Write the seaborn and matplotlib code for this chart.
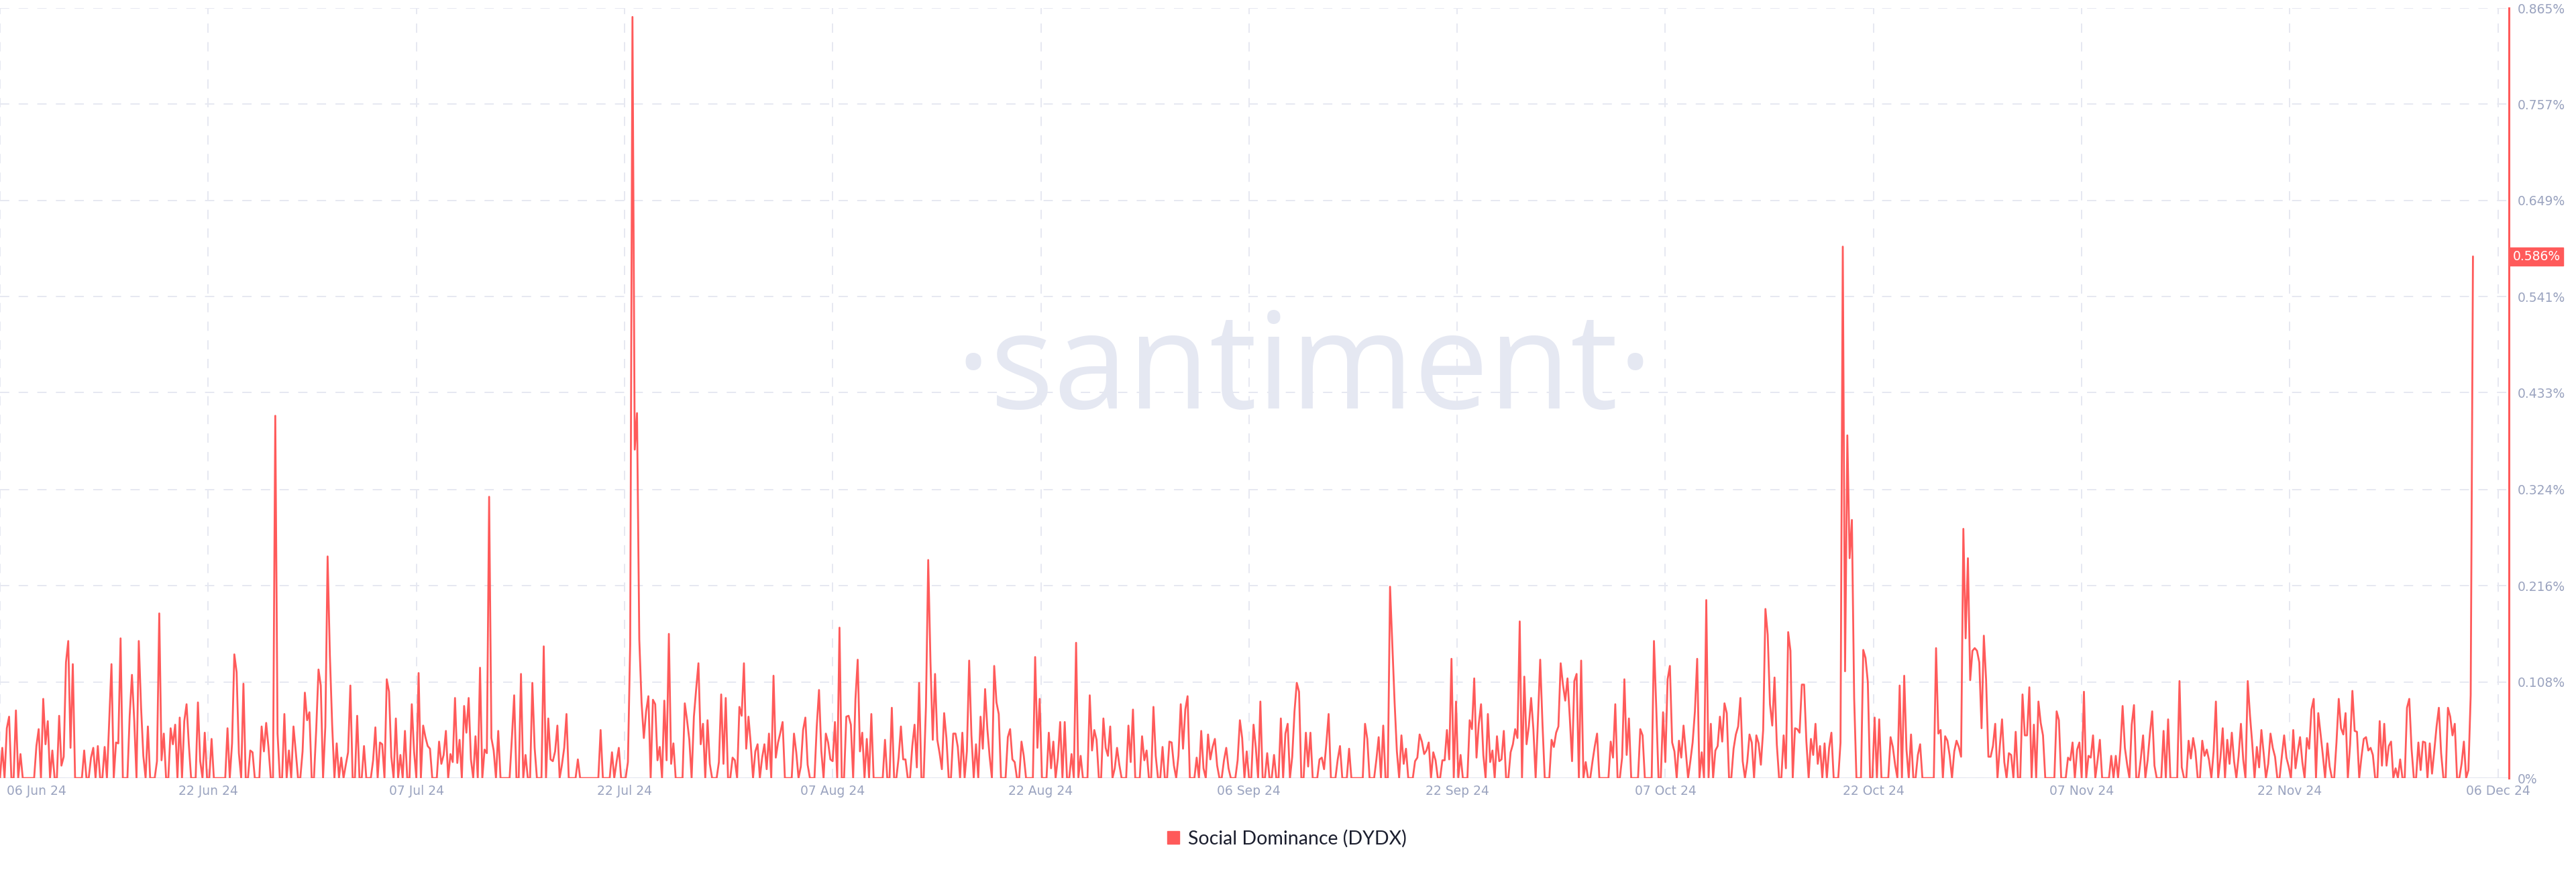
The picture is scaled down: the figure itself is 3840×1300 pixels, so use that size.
import numpy as np
import pandas as pd
import matplotlib
matplotlib.use("Agg")
import matplotlib.pyplot as plt
import matplotlib.transforms as mtransforms
from matplotlib.patches import Patch
import seaborn as sns

sns.set_style("white")
plt.rcParams["font.family"] = ["DejaVu Sans"]
plt.rcParams["lines.scale_dashes"] = False

# Social Dominance (DYDX), one value every 4 hours, in thousandths of a percent
jun_early = [0, 34, 0, 56, 69, 0, 0, 76, 0, 27,
             0, 0, 0, 0, 0, 0, 36, 55, 0, 89,
             38, 64, 0, 31, 0, 0, 70, 14, 24, 130,
             154, 34, 128, 0, 0, 0, 0, 31, 0, 0,
             23, 34, 0, 36, 0, 0, 35, 0, 65, 128,
             0, 40, 39, 157, 0, 0, 0, 70, 116, 65,
             0, 154, 80, 25, 0, 58, 0, 0, 0, 19,
             185, 20, 50, 0, 0, 56, 38, 60, 0, 68,
             0, 64, 83, 38, 0, 0, 0, 85, 19, 0,
             51, 0, 0, 44, 0, 0, 0, 0, 0, 0,
             56, 0, 39, 139, 119, 28, 0, 106, 0, 0,
             31, 29, 0, 0, 0, 58, 30, 62, 35, 0,
             0, 407, 50, 0, 0, 72, 0, 31, 0, 58,
             30, 0, 0, 30, 96, 65, 74, 0, 0, 55,
             122, 104, 0, 58, 249, 138, 60, 0, 39, 0,
             23, 0, 15, 29, 104, 0, 0, 70, 0, 0,
             36, 0]
jul = [0, 0, 20, 57, 0, 40, 38, 0, 111, 97,
       24, 0, 67, 0, 26, 0, 53, 0, 0, 83,
       30, 0, 118, 0, 59, 46, 36, 33, 0, 0,
       0, 41, 16, 26, 53, 0, 27, 18, 90, 17,
       43, 0, 81, 51, 90, 21, 0, 47, 0, 124,
       0, 32, 28, 316, 45, 31, 0, 53, 0, 0,
       0, 0, 0, 45, 93, 0, 0, 117, 0, 26,
       0, 0, 107, 34, 0, 0, 0, 148, 0, 67,
       21, 19, 30, 59, 0, 15, 34, 72, 0, 0,
       0, 0, 21, 0, 0, 0, 0, 0, 0, 0,
       0, 0, 54, 0, 0, 0, 0, 29, 0, 18,
       34, 0, 0, 0, 18, 150, 855, 369, 410, 156,
       85, 45, 75, 92, 0, 88, 83, 20, 35, 0,
       87, 20, 162, 16, 39, 0, 0, 0, 0, 84,
       65, 43, 0, 69, 100, 129, 38, 61, 0, 65,
       16, 0, 0, 0, 18, 94, 16, 90, 0, 0,
       23, 20]
aug = [0, 80, 70, 129, 33, 69, 38, 0, 30, 38,
       0, 23, 38, 10, 50, 0, 115, 23, 40, 51,
       63, 0, 0, 0, 0, 50, 29, 0, 13, 54,
       68, 15, 0, 0, 0, 58, 99, 31, 0, 50,
       40, 21, 19, 63, 0, 169, 0, 0, 69, 70,
       60, 0, 88, 133, 30, 51, 0, 44, 0, 72,
       0, 0, 0, 0, 0, 43, 0, 0, 79, 0,
       0, 23, 58, 21, 21, 0, 0, 36, 60, 12,
       107, 0, 0, 80, 245, 130, 43, 117, 43, 28,
       10, 73, 45, 0, 0, 50, 50, 35, 0, 51,
       0, 30, 132, 48, 0, 38, 0, 69, 33, 100,
       55, 24, 0, 126, 85, 72, 0, 0, 0, 46,
       55, 21, 18, 0, 0, 41, 25, 0, 0, 0,
       0, 136, 34, 89, 0, 0, 0, 51, 11, 41,
       0, 23, 63, 0, 63, 0, 0, 27, 0, 152,
       0, 25, 0, 0, 0, 93, 31, 54, 43, 0,
       0, 67]
sep = [34, 25, 58, 0, 11, 34, 15, 0, 0, 0,
       59, 18, 77, 0, 0, 0, 47, 20, 31, 0,
       0, 80, 25, 0, 0, 35, 0, 0, 41, 40,
       14, 0, 25, 83, 33, 77, 92, 0, 0, 0,
       23, 0, 53, 11, 0, 49, 21, 35, 44, 14,
       0, 0, 20, 34, 11, 0, 0, 0, 20, 65,
       45, 0, 30, 0, 0, 60, 34, 0, 86, 0,
       0, 28, 0, 0, 26, 0, 0, 67, 0, 50,
       61, 0, 24, 75, 107, 97, 0, 0, 51, 13,
       51, 0, 0, 0, 21, 23, 10, 39, 72, 0,
       0, 0, 21, 36, 0, 0, 0, 33, 0, 0,
       0, 0, 0, 0, 61, 44, 0, 0, 0, 21,
       46, 0, 59, 0, 0, 215, 151, 85, 30, 0,
       48, 16, 33, 0, 0, 0, 19, 23, 49, 41,
       27, 31, 40, 0, 29, 20, 0, 0, 20, 20,
       54, 21, 134, 0, 86, 0, 26, 0, 0, 0,
       65, 55]
oct_early = [112, 23, 61, 83, 26, 0, 72, 18, 31, 0,
             47, 19, 21, 53, 0, 0, 29, 38, 55, 45,
             176, 0, 114, 38, 58, 90, 55, 0, 65, 133,
             61, 0, 0, 0, 43, 35, 51, 58, 129, 105,
             87, 112, 68, 19, 109, 117, 0, 132, 0, 18,
             0, 0, 19, 36, 50, 0, 0, 0, 0, 0,
             41, 23, 83, 0, 0, 23, 111, 26, 67, 0,
             0, 0, 0, 55, 48, 0, 0, 0, 0, 154,
             80, 0, 0, 74, 18, 111, 126, 40, 30, 0,
             42, 23, 59, 30, 0, 19, 40, 75, 134, 0,
             29, 0, 200, 0, 61, 0, 31, 36, 69, 41,
             84, 73, 0, 0, 33, 49, 58, 90, 19, 0,
             18, 49, 40, 0, 48, 39, 15, 54, 190, 161,
             83, 59, 113, 38, 0, 0, 48, 11, 164, 143,
             0, 56, 55, 51, 105, 105, 41, 0, 44, 26,
             61, 16, 36, 0, 39, 0, 34, 51, 0, 0,
             0, 40, 597]
oct_nov = [120, 385, 247, 290, 90, 0, 0, 0, 144, 135,
           108, 0, 0, 68, 0, 66, 0, 0, 0, 0,
           46, 35, 15, 0, 104, 0, 115, 32, 0, 49,
           0, 0, 26, 38, 0, 0, 0, 0, 0, 0,
           146, 50, 54, 0, 47, 42, 25, 0, 30, 42,
           35, 24, 280, 157, 247, 110, 143, 146, 143, 130,
           56, 160, 110, 24, 24, 36, 61, 0, 35, 66,
           18, 0, 28, 26, 0, 52, 0, 0, 94, 48,
           48, 102, 0, 60, 0, 86, 62, 48, 0, 0,
           0, 0, 0, 75, 65, 0, 0, 0, 23, 20,
           40, 0, 32, 40, 0, 97, 0, 25, 23, 48,
           0, 20, 43, 0, 0, 0, 0, 25, 0, 25,
           0, 32, 81, 34, 15, 0, 60, 82, 0, 0,
           22, 48, 0, 20, 50, 75, 14, 0, 0, 0,
           53, 0, 66, 0, 0, 0, 0, 109, 12, 0,
           0, 42, 22, 45, 30, 0, 0, 42, 25, 32,
           20]
nov_dec = [0, 30, 86, 0, 23, 56, 0, 43, 16, 51,
           19, 0, 25, 61, 21, 0, 109, 70, 38, 0,
           35, 12, 54, 28, 0, 16, 50, 34, 24, 0,
           0, 25, 48, 23, 13, 0, 54, 11, 30, 46,
           18, 0, 45, 33, 77, 89, 0, 73, 50, 26,
           0, 39, 13, 0, 0, 40, 89, 56, 49, 73,
           0, 38, 98, 53, 52, 0, 24, 44, 46, 31,
           34, 26, 0, 0, 64, 14, 61, 14, 36, 41,
           0, 11, 0, 21, 0, 0, 79, 89, 33, 0,
           0, 40, 9, 41, 40, 0, 39, 5, 31, 58,
           79, 28, 0, 0, 79, 69, 48, 61, 0, 0,
           16, 41, 0, 9, 93, 586]

x_tick_labels = ["06 Jun 24", "22 Jun 24", "07 Jul 24", "22 Jul 24", "07 Aug 24",
                 "22 Aug 24", "06 Sep 24", "22 Sep 24", "07 Oct 24", "22 Oct 24",
                 "07 Nov 24", "22 Nov 24", "06 Dec 24"]
y_tick_values = [0, 0.108, 0.216, 0.324, 0.433, 0.541, 0.649, 0.757, 0.865]
y_tick_labels = ["0%", "0.108%", "0.216%", "0.324%", "0.433%", "0.541%",
                 "0.649%", "0.757%", "0.865%"]
last_value = 0.586

start = pd.Timestamp("2024-06-06")
values = np.concatenate([jun_early, jul, aug, sep, oct_early, oct_nov, nov_dec]) / 1000
df = pd.DataFrame({
    "time": pd.date_range(start, periods=len(values), freq="4h"),
    "dominance": values,
})

red = "#ff5a5a"
grid_c = "#e6e8f1"
label_c = "#9aa3bf"

fig = plt.figure(figsize=(38.4, 13), dpi=100)
ax = fig.add_axes([0, 140 / 1300, 3740 / 3840, 1148 / 1300])

# watermark
ax.text(0.52, 0.525, "\u00b7santiment\u00b7", transform=ax.transAxes, ha="center",
        va="center", fontsize=143, color="#e5e8f2", family="Open Sans", zorder=0)

sns.lineplot(data=df, x="time", y="dominance", color=red, linewidth=2, ax=ax, zorder=3)

ticks = pd.date_range(start, start + pd.Timedelta(days=183), periods=13)
ax.set_xticks(ticks)
ax.set_xticklabels(x_tick_labels)
ax.set_xlim(start, start + pd.Timedelta(days=183.8))
ax.set_ylim(0, 0.865)
ax.set_yticks(y_tick_values)
ax.set_yticklabels(y_tick_labels)
ax.yaxis.tick_right()
ax.tick_params(axis="both", length=0, labelsize=13.5, labelcolor=label_c)
ax.tick_params(axis="y", pad=9)
ax.tick_params(axis="x", pad=7)
first = ax.get_xticklabels()[0]
first.set_ha("left")
first.set_transform(first.get_transform()
                    + mtransforms.ScaledTranslation(0.1, 0, fig.dpi_scale_trans))
ax.set_xlabel("")
ax.set_ylabel("")

ax.grid(True, color=grid_c, linestyle=(0, (10, 10)), linewidth=1.4)
ax.axhline(0, color="#e1e4ee", linewidth=2, zorder=2)
for side in ["top", "left", "bottom"]:
    ax.spines[side].set_visible(False)
ax.spines["right"].set_color(red)
ax.spines["right"].set_linewidth(2.2)

# current value badge on the right axis
trans = mtransforms.blended_transform_factory(ax.transAxes, ax.transData)
ax.text(1.0015, last_value, f"{last_value:.3f}%", transform=trans, ha="left", va="center",
        fontsize=13.5, color="white",
        bbox=dict(boxstyle="square,pad=0.22", facecolor=red, edgecolor=red))

fig.legend(handles=[Patch(facecolor=red, edgecolor=red, label="Social Dominance (DYDX)")],
           loc="center", bbox_to_anchor=(0.4995, 0.0385), frameon=False,
           prop={"family": "Lato", "size": 20.5}, labelcolor="#1b1e2e",
           handlelength=0.65, handleheight=0.65, handletextpad=0.45)

fig.savefig("out.png", dpi=100)
